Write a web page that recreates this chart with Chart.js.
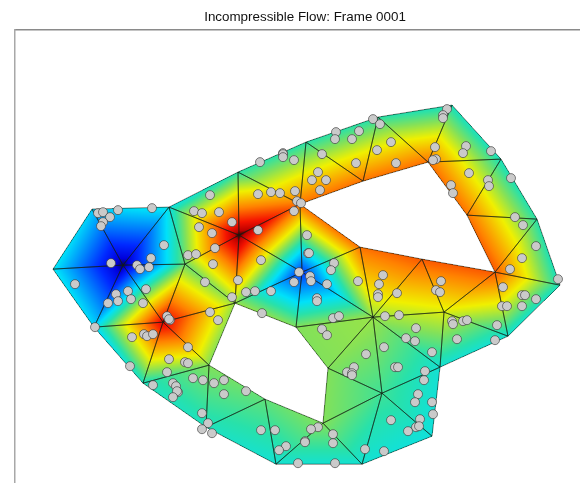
<!DOCTYPE html>
<html>
<head>
<meta charset="utf-8">
<script src="https://cdn.jsdelivr.net/npm/chart.js@4"></script>
<style>
  html, body { margin: 0; padding: 0; background: #fff; overflow: hidden; }
  #wrap { width: 580px; height: 483px; overflow: hidden; }
</style>
</head>
<body>
<div id="wrap"><canvas id="chart" width="610" height="520"></canvas></div>
<script>
const titleText = 'Incompressible Flow: Frame 0001';

// Mesh nodes, in axis units, with the pressure value at each node (0..1).
const nodeX = [92, 169, 238, 306, 378, 452, 501, 537, 560, 508, 440, 432, 362, 276, 206, 143, 94, 53,
  300, 363, 428, 467, 495, 422, 360,
  235, 296, 328, 323, 265, 209,
  123, 185, 163, 239, 302, 373, 444, 382];
const nodeY = [209, 207, 172, 142, 117, 105, 159, 219, 285, 336, 367, 436, 464, 464, 427, 383, 327, 269,
  204, 181, 162, 215, 272, 259, 247,
  303, 327, 368, 423, 399, 365,
  265, 264, 322, 235, 272, 317, 312, 393];
const nodeValue = [0.32, 0.36, 0.42, 0.42, 0.42, 0.40, 0.40, 0.42, 0.40, 0.38, 0.38, 0.37, 0.38, 0.38, 0.40, 0.40, 0.33, 0.35,
  0.77, 0.77, 0.77, 0.77, 0.80, 0.80, 0.77,
  0.52, 0.50, 0.50, 0.50, 0.47, 0.50,
  0.0, 0.48, 0.92, 1.0, 0.14, 0.52, 0.58, 0.44];

const triangles = [
  [17, 0, 31], [0, 1, 31], [1, 32, 31], [31, 32, 33], [31, 33, 16], [17, 31, 16],
  [16, 33, 15], [33, 30, 15], [33, 25, 30], [32, 25, 33], [32, 34, 25], [1, 34, 32],
  [1, 2, 34], [2, 18, 34], [2, 3, 18], [3, 19, 18], [3, 4, 19], [4, 20, 19],
  [4, 5, 20], [5, 6, 20], [6, 21, 20], [6, 7, 21], [7, 22, 21], [7, 8, 22],
  [8, 9, 22], [22, 9, 37], [9, 10, 37], [22, 37, 23], [23, 37, 36], [37, 10, 36],
  [24, 23, 36], [24, 36, 35], [35, 36, 26], [26, 36, 27], [27, 36, 38], [36, 10, 38],
  [10, 11, 38], [11, 12, 38], [38, 12, 28], [27, 38, 28], [28, 12, 13], [29, 28, 13],
  [14, 29, 13], [15, 30, 14], [30, 29, 14], [34, 18, 35], [18, 24, 35], [34, 35, 25], [25, 35, 26]
];

const particleX = [98, 103, 110, 118, 152, 103, 101, 210, 194, 202, 219, 199, 212, 232, 258, 258, 271, 280, 260, 283, 283, 283, 294,
  322, 336, 335, 352, 359, 373, 380, 377, 391, 356, 396, 318, 312, 326, 320, 295, 297, 301, 294, 307,
  447, 443, 443, 435, 436, 433, 466, 463, 491, 469, 451, 453, 488, 489, 511, 515, 523,
  164, 151, 111, 137, 140, 149, 75, 146, 128, 116, 118, 131, 108, 143, 95, 167, 170, 169, 132, 144, 147, 153, 188, 169, 185, 188, 167, 130,
  193, 203, 214, 224, 224, 246, 153, 173, 176, 178, 177, 173, 202, 208, 202, 212, 261, 275, 286, 279,
  188, 196, 215, 213, 205, 261, 238, 232, 246, 255, 271, 262, 210, 218,
  308, 309, 299, 310, 311, 294, 334, 331, 327, 358, 317, 317, 333, 339, 322, 327, 383, 379, 378, 378, 397, 385, 399, 416, 406, 415, 384, 366, 432,
  354, 347, 352, 352, 395, 398, 425, 424, 418, 415, 432, 433, 391, 420, 416, 419, 408, 384, 365, 333, 333, 318, 311, 305, 305, 298, 335,
  441, 436, 440, 452, 453, 463, 467, 457, 495, 497, 503, 502, 507, 522, 522, 525, 536, 510, 522, 536, 558];
const particleY = [213, 212, 217, 210, 208, 222, 226, 195, 211, 213, 212, 227, 233, 222, 230, 194, 192, 193, 162, 153, 154, 157, 160,
  154, 132, 139, 139, 131, 119, 124, 150, 142, 163, 163, 172, 180, 180, 190, 191, 201, 203, 211, 235,
  109, 115, 118, 147, 159, 160, 146, 153, 151, 173, 185, 193, 180, 186, 178, 217, 225,
  245, 258, 263, 265, 269, 267, 284, 289, 291, 294, 301, 299, 303, 303, 327, 316, 320, 319, 337, 334, 336, 334, 347, 359, 362, 363, 372, 366,
  378, 380, 383, 380, 394, 391, 385, 383, 386, 392, 391, 397, 413, 423, 429, 433, 430, 430, 446, 450,
  255, 254, 248, 264, 282, 260, 280, 297, 292, 291, 291, 313, 312, 320,
  253, 253, 272, 276, 281, 282, 263, 270, 284, 281, 298, 301, 318, 316, 329, 335, 275, 284, 294, 297, 293, 316, 315, 328, 338, 341, 347, 354, 352,
  367, 372, 373, 375, 367, 367, 371, 380, 394, 402, 402, 414, 420, 419, 427, 426, 431, 451, 449, 434, 443, 427, 429, 441, 442, 463, 463,
  281, 290, 292, 321, 324, 321, 320, 339, 340, 325, 287, 306, 306, 306, 295, 295, 299, 269, 258, 246, 279];

// colour map: jet with dark ends, as in the reference
const colorStops = [
  [0.00, [0, 0, 100]], [0.04, [0, 0, 220]], [0.12, [0, 40, 255]], [0.34, [0, 225, 250]],
  [0.42, [40, 225, 170]], [0.50, [130, 225, 90]], [0.60, [240, 240, 0]], [0.75, [255, 130, 0]],
  [0.88, [245, 20, 0]], [0.96, [190, 0, 0]], [1.00, [50, 0, 0]]
];

function colorAt(v) {
  for (let i = 1; i < colorStops.length; i++) {
    if (v <= colorStops[i][0]) {
      const [a, ca] = colorStops[i - 1];
      const [b, cb] = colorStops[i];
      const t = (v - a) / (b - a);
      return [0, 1, 2].map(k => ca[k] + (cb[k] - ca[k]) * t);
    }
  }
  return colorStops[colorStops.length - 1][1];
}

// Gouraud shaded mesh, drawn under the particles.
const meshPlugin = {
  id: 'mesh',
  beforeDatasetsDraw: (chart) => {
    const {ctx, scales: {x, y}} = chart;
    const px = nodeX.map(v => x.getPixelForValue(v));
    const py = nodeY.map(v => y.getPixelForValue(v));

    const w = chart.width;
    const h = chart.height;
    const image = ctx.createImageData(w, h);

    triangles.forEach(([a, b, c]) => {
      const area = (px[b] - px[a]) * (py[c] - py[a]) - (px[c] - px[a]) * (py[b] - py[a]);
      const x0 = Math.floor(Math.min(px[a], px[b], px[c]));
      const x1 = Math.ceil(Math.max(px[a], px[b], px[c]));
      const y0 = Math.floor(Math.min(py[a], py[b], py[c]));
      const y1 = Math.ceil(Math.max(py[a], py[b], py[c]));
      for (let j = y0; j <= y1; j++) {
        for (let i = x0; i <= x1; i++) {
          const sx = i + 0.5;
          const sy = j + 0.5;
          const wb = ((sx - px[a]) * (py[c] - py[a]) - (px[c] - px[a]) * (sy - py[a])) / area;
          const wc = ((px[b] - px[a]) * (sy - py[a]) - (sx - px[a]) * (py[b] - py[a])) / area;
          const wa = 1 - wb - wc;
          if (wa < -0.002 || wb < -0.002 || wc < -0.002) continue;
          const color = colorAt(wa * nodeValue[a] + wb * nodeValue[b] + wc * nodeValue[c]);
          const p = (j * w + i) * 4;
          image.data[p] = color[0];
          image.data[p + 1] = color[1];
          image.data[p + 2] = color[2];
          image.data[p + 3] = 255;
        }
      }
    });

    const buffer = document.createElement('canvas');
    buffer.width = w;
    buffer.height = h;
    buffer.getContext('2d').putImageData(image, 0, 0);
    ctx.drawImage(buffer, 0, 0);

    ctx.save();
    ctx.strokeStyle = 'rgba(20, 30, 20, 0.7)';
    ctx.lineWidth = 0.8;
    ctx.beginPath();
    triangles.forEach(([a, b, c]) => {
      ctx.moveTo(px[a], py[a]);
      ctx.lineTo(px[b], py[b]);
      ctx.lineTo(px[c], py[c]);
      ctx.closePath();
    });
    ctx.stroke();
    ctx.restore();
  }
};

// The axes carry no ticks, so they take no room and the plot box starts at the padding.
const noRoom = (scale) => {
  if (scale.axis === 'x') scale.height = 0;
  else scale.width = 0;
};

new Chart(document.getElementById('chart'), {
  type: 'scatter',
  data: {
    datasets: [{
      data: particleX.map((v, i) => ({x: v, y: particleY[i]})),
      backgroundColor: '#cacaca',
      borderColor: 'rgba(60, 60, 60, 0.8)',
      borderWidth: 0.8,
      pointRadius: 4.5
    }]
  },
  options: {
    responsive: false,
    animation: false,
    layout: {padding: {left: 15, right: 15, top: 0, bottom: 0}},
    plugins: {
      legend: {display: false},
      tooltip: {enabled: false},
      title: {
        display: true,
        text: titleText,
        color: '#111',
        font: {family: '"Liberation Sans", Arial, sans-serif', size: 13.4, weight: 'normal'},
        padding: {top: 9, bottom: 5}
      }
    },
    scales: {
      x: {
        type: 'linear',
        position: 'top',
        min: 15,
        max: 595,
        ticks: {display: false},
        grid: {display: false},
        border: {display: true, color: '#8a8a8a', width: 1.5},
        afterFit: noRoom
      },
      y: {
        type: 'linear',
        reverse: true,
        min: 30,
        max: 514.5,
        ticks: {display: false},
        grid: {display: false},
        border: {display: true, color: '#a8a8a8', width: 1.5},
        afterFit: noRoom
      }
    }
  },
  plugins: [meshPlugin]
});
</script>
</body>
</html>
